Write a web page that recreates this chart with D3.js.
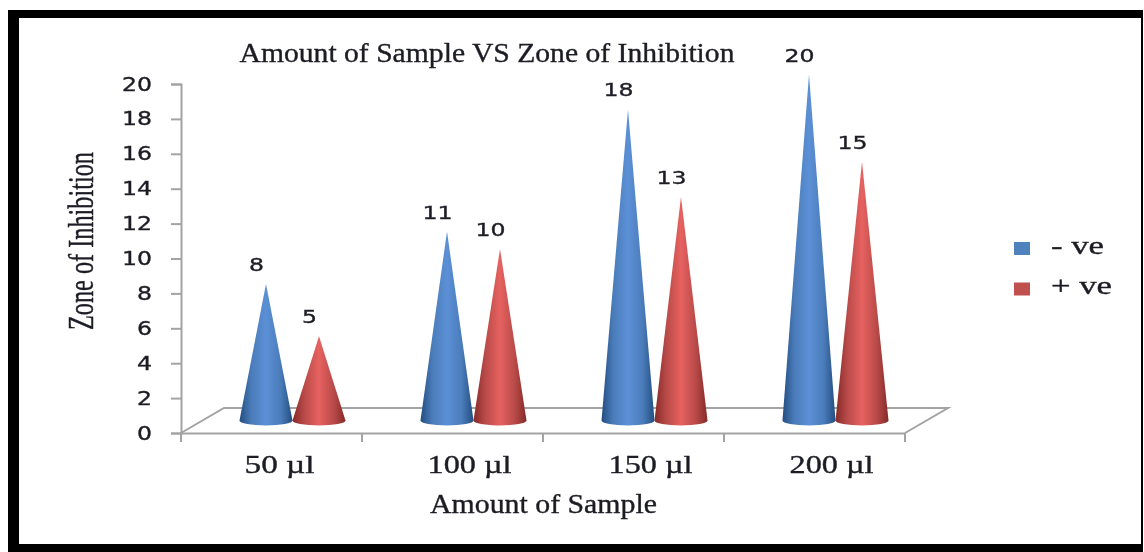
<!DOCTYPE html>
<html>
<head>
<meta charset="utf-8">
<script src="https://d3js.org/d3.v7.min.js"></script>
<style>
    body { margin: 0; background: #fff; }
    svg { display: block; }
    text { fill: #1c1c24; stroke: #1c1c24; stroke-width: 0.35; }
    .serif { font-family: "Liberation Serif", serif; }
    .sans { font-family: "DejaVu Sans", sans-serif; }
    .axis path, .axis line, .floor { stroke: #a3a3a3; stroke-width: 2; fill: none; }
    .chart { filter: blur(0.5px); }
</style>
</head>
<body>
<div id="chart"></div>
<script>
const categories = ['50 µl', '100 µl', '150 µl', '200 µl'];
const seriesNames = ['- ve', '+ ve'];
const negativeValues = [8, 11, 18, 20];
const positiveValues = [5, 10, 13, 15];
const yTickValues = [0, 2, 4, 6, 8, 10, 12, 14, 16, 18, 20];

const width = 1144, height = 552;
const plot = {left: 181, right: 905, top: 84, bottom: 433};
const depth = {x: 43, y: 25};
const coneRx = 26.5, coneRy = 5;
const colors = [
    {id: 'coneBlue', edge: '#234d80', side: '#4a7cba', mid: '#5c90d6', swatch: '#4f81bd'},
    {id: 'coneRed', edge: '#852a28', side: '#b84a48', mid: '#e66260', swatch: '#c0504d'}
];

const svg = d3.select('#chart').append('svg')
    .attr('width', width)
    .attr('height', height);

// cone shading
const defs = svg.append('defs');
colors.forEach(c => {
    const grad = defs.append('linearGradient').attr('id', c.id);
    grad.append('stop').attr('offset', '0%').attr('stop-color', c.edge);
    grad.append('stop').attr('offset', '22%').attr('stop-color', c.side);
    grad.append('stop').attr('offset', '50%').attr('stop-color', c.mid);
    grad.append('stop').attr('offset', '78%').attr('stop-color', c.side);
    grad.append('stop').attr('offset', '100%').attr('stop-color', c.edge);
});

// picture frame
svg.append('rect').attr('width', width).attr('height', height).attr('fill', '#fff');
svg.append('path')
    .attr('fill', '#000')
    .attr('fill-rule', 'evenodd')
    .attr('d', `M8,10H1143V552H8Z M19,18V544H1141V18Z`);

const chart = svg.append('g').attr('class', 'chart');

const xScale = d3.scaleBand()
    .domain(categories)
    .range([plot.left, plot.right]);
const yScale = d3.scaleLinear()
    .domain([0, 20])
    .range([plot.bottom, plot.top]);
const seriesScale = d3.scaleBand()
    .domain(seriesNames)
    .range([-coneRx * 2, coneRx * 2]);

// floor of the 3d plot
const floorBack = plot.bottom - depth.y;
chart.append('path')
    .attr('class', 'floor')
    .attr('d', `M${plot.left},${plot.bottom}L${plot.left + depth.x},${floorBack}H${plot.right + depth.x}L${plot.right},${plot.bottom}`);

const xAxis = chart.append('g')
    .attr('class', 'axis x-axis')
    .attr('transform', `translate(0, ${plot.bottom})`)
    .call(d3.axisBottom(xScale).tickSize(0).tickFormat(''));
xAxis.selectAll('.tick').remove();
xAxis.selectAll('.edge')
    .data(d3.range(categories.length + 1))
    .join('line')
    .attr('class', 'edge')
    .attr('x1', i => plot.left + i * xScale.bandwidth())
    .attr('x2', i => plot.left + i * xScale.bandwidth())
    .attr('y2', 9);

const yAxis = chart.append('g')
    .attr('class', 'axis y-axis')
    .attr('transform', `translate(${plot.left}, 0)`)
    .call(d3.axisLeft(yScale).tickValues(yTickValues).tickSize(10).tickSizeOuter(10).tickPadding(19));
yAxis.selectAll('text')
    .attr('class', 'sans')
    .attr('font-size', 19)
    .attr('font-family', null)
    .attr('textLength', d => String(d).length * 15)
    .attr('lengthAdjust', 'spacingAndGlyphs');

// cones
const series = [negativeValues, positiveValues];
const baseY = plot.bottom - 12.5;
const cx = (cat, name) => xScale(cat) + xScale.bandwidth() / 2 + depth.x / 2 + seriesScale(name) + coneRx - 0.5;
const tipY = v => yScale(v) - 9.5;

seriesNames.forEach((name, s) => {
    const group = chart.append('g').attr('class', 'series');
    const rows = categories.map((cat, i) => ({cat, value: series[s][i]}));

    group.selectAll('path')
        .data(rows)
        .join('path')
        .attr('fill', `url(#${colors[s].id})`)
        .attr('d', d => {
            const x = cx(d.cat, name);
            return `M${x - coneRx},${baseY}L${x},${tipY(d.value)}L${x + coneRx},${baseY}A${coneRx},${coneRy} 0 0 1 ${x - coneRx},${baseY}Z`;
        });

    group.selectAll('text')
        .data(rows)
        .join('text')
        .attr('class', 'sans')
        .attr('font-size', 18)
        .attr('text-anchor', 'middle')
        .attr('x', d => cx(d.cat, name) - 9.5)
        .attr('y', d => tipY(d.value) - 13)
        .attr('textLength', d => String(d.value).length * 15)
        .attr('lengthAdjust', 'spacingAndGlyphs')
        .text(d => d.value);
});

// category labels, the first one sits closer to its band centre
chart.selectAll('.cat-label')
    .data(categories)
    .join('text')
    .attr('class', 'cat-label serif')
    .attr('font-size', 26)
    .attr('text-anchor', 'middle')
    .attr('x', (d, i) => xScale(d) + xScale.bandwidth() / 2 + (i === 0 ? 8 : 17))
    .attr('y', 473)
    .attr('textLength', d => d.length * 14)
    .attr('lengthAdjust', 'spacingAndGlyphs')
    .text(d => d);

// titles
chart.append('text')
    .attr('class', 'serif')
    .attr('font-size', 27)
    .attr('text-anchor', 'middle')
    .attr('x', 487)
    .attr('y', 62)
    .attr('textLength', 495)
    .attr('lengthAdjust', 'spacingAndGlyphs')
    .text('Amount of Sample VS Zone of Inhibition');

chart.append('text')
    .attr('class', 'serif')
    .attr('font-size', 27)
    .attr('text-anchor', 'middle')
    .attr('x', 543.5)
    .attr('y', 513)
    .attr('textLength', 227)
    .attr('lengthAdjust', 'spacingAndGlyphs')
    .text('Amount of Sample');

chart.append('text')
    .attr('class', 'serif')
    .attr('font-size', 35)
    .attr('text-anchor', 'middle')
    .attr('transform', 'translate(93, 241) rotate(-90)')
    .attr('textLength', 178)
    .attr('lengthAdjust', 'spacingAndGlyphs')
    .text('Zone of Inhibition');

// legend
const legendY = d3.scalePoint().domain(seriesNames).range([248.5, 289]);
const legend = chart.selectAll('.legend')
    .data(seriesNames)
    .join('g')
    .attr('class', 'legend')
    .attr('transform', d => `translate(1014, ${legendY(d)})`);
legend.append('rect')
    .attr('y', -6.5)
    .attr('width', 16)
    .attr('height', 13)
    .attr('fill', (d, i) => colors[i].swatch);
legend.append('text')
    .attr('class', 'serif')
    .attr('font-size', 26)
    .attr('x', 37)
    .attr('y', 5)
    .attr('textLength', (d, i) => i === 0 ? 53 : 61)
    .attr('lengthAdjust', 'spacingAndGlyphs')
    .text(d => d);
</script>
</body>
</html>
